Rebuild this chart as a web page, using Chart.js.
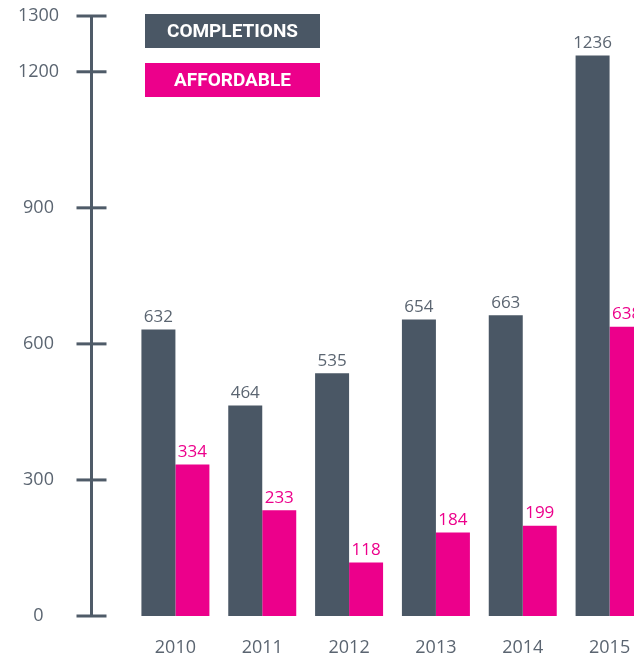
<!DOCTYPE html>
<html lang="en">
<head>
<meta charset="UTF-8" />
<title>Completions and affordable homes</title>
<script src="https://cdn.jsdelivr.net/npm/chart.js@4/dist/chart.umd.min.js"></script>
<style>
    html, body { margin: 0; padding: 0; overflow: hidden; background: #fff; }
    #wrap { position: relative; width: 653px; height: 659px; }
</style>
</head>
<body>
<div id="wrap"><canvas id="homesChart" width="653" height="659"></canvas></div>
<script>
    // data
    const years = ['2010', '2011', '2012', '2013', '2014', '2015'];
    const completions = [632, 464, 535, 654, 663, 1236];
    const affordable = [334, 233, 118, 184, 199, 638];
    const seriesNames = ['COMPLETIONS', 'AFFORDABLE'];
    const yTicks = [0, 300, 600, 900, 1200];
    const yTopLabel = '1300';   // sits at the very top of the axis
    const yMax = 1323;

    const slate = '#4a5765';
    const magenta = '#ec008b';
    const textGrey = '#5b6571';
    const numFont = '"Open Sans", sans-serif';

    // y axis drawn a little apart from the bars, with crossing tick marks
    const yAxisLine = {
        id: 'yAxisLine',
        afterDraw(chart) {
            const { ctx } = chart;
            const y = chart.scales.y;
            const axisX = chart.chartArea.left - 40.5;
            ctx.save();
            ctx.strokeStyle = '#4f5b68';
            ctx.lineWidth = 3;
            ctx.beginPath();
            ctx.moveTo(axisX, y.getPixelForValue(0));
            ctx.lineTo(axisX, y.getPixelForValue(yMax));
            ctx.stroke();

            const marks = yTicks.map(v => ({ v, label: String(v) }));
            marks.push({ v: yMax, label: yTopLabel });
            ctx.font = '18px ' + numFont;
            ctx.fillStyle = textGrey;
            ctx.textAlign = 'center';
            ctx.textBaseline = 'middle';
            marks.forEach(m => {
                const py = y.getPixelForValue(m.v);
                ctx.beginPath();
                ctx.moveTo(axisX - 15, py);
                ctx.lineTo(axisX + 15, py);
                ctx.stroke();
                ctx.fillText(m.label, axisX - 53, py);
            });
            ctx.restore();
        }
    };

    // value above every bar
    const barValues = {
        id: 'barValues',
        afterDatasetsDraw(chart) {
            const { ctx } = chart;
            ctx.save();
            ctx.font = '17px ' + numFont;
            ctx.textAlign = 'center';
            ctx.textBaseline = 'bottom';
            chart.data.datasets.forEach((ds, i) => {
                ctx.fillStyle = ds.labelColor;
                chart.getDatasetMeta(i).data.forEach((bar, j) => {
                    ctx.fillText(String(ds.data[j]), bar.x, bar.y - 4);
                });
            });
            ctx.restore();
        }
    };

    // legend as filled boxes with the name inside
    const boxLegend = {
        id: 'boxLegend',
        afterDraw(chart) {
            const { ctx } = chart;
            const boxX = 145, boxW = 175, boxH = 34;
            ctx.save();
            ctx.font = 'bold 19px Roboto, sans-serif';
            ctx.textAlign = 'center';
            ctx.textBaseline = 'middle';
            chart.data.datasets.forEach((ds, i) => {
                const top = 14 + i * 49;
                ctx.fillStyle = ds.backgroundColor;
                ctx.fillRect(boxX, top, boxW, boxH);
                ctx.fillStyle = '#ffffff';
                ctx.fillText(ds.label, boxX + boxW / 2, top + boxH / 2 + 1);
            });
            ctx.restore();
        }
    };

    const ctx = document.getElementById('homesChart').getContext('2d');
    new Chart(ctx, {
        type: 'bar',
        data: {
            labels: years,
            datasets: [
                { label: seriesNames[0], data: completions, backgroundColor: slate, labelColor: textGrey },
                { label: seriesNames[1], data: affordable, backgroundColor: magenta, labelColor: magenta }
            ]
        },
        options: {
            responsive: false,
            animation: false,
            layout: { padding: { left: 132, right: 0, top: 16, bottom: 0 } },
            datasets: { bar: { barPercentage: 1, categoryPercentage: 0.783 } },
            plugins: { legend: { display: false }, tooltip: { enabled: false } },
            scales: {
                x: {
                    grid: { display: false, drawTicks: false },
                    border: { display: false },
                    ticks: { color: textGrey, font: { family: 'Open Sans', size: 18 }, padding: 21 },
                    afterFit(scale) { scale.height = 43; }
                },
                y: { display: false, min: 0, max: yMax }
            }
        },
        plugins: [yAxisLine, barValues, boxLegend]
    });
</script>
</body>
</html>
